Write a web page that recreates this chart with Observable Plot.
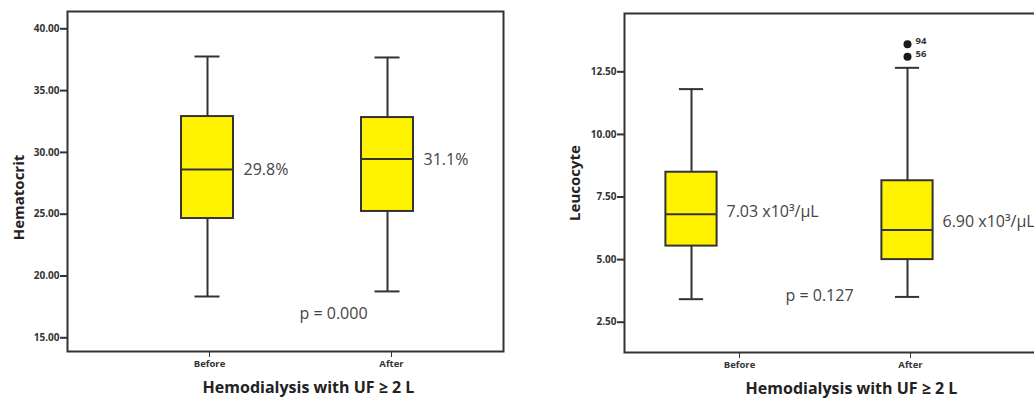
<!DOCTYPE html>
<html>
<head>
<meta charset="utf-8">
<script src="https://cdn.jsdelivr.net/npm/d3@7"></script>
<script src="https://cdn.jsdelivr.net/npm/@observablehq/plot@0.6"></script>
<style>
  body { margin: 0; background: #fff; }
  #wrap { position: relative; width: 1034px; height: 398px; overflow: hidden; background: #fff; }
  #left, #right { position: absolute; top: 0; width: 520px; height: 398px; }
  #left { left: 0; }
  #right { left: 560px; }
  #wrap svg { max-width: none !important; }
</style>
</head>
<body>
<div id="wrap"><div id="left"></div><div id="right"></div></div>
<script>
// ---- data ----
const categories = ["Before", "After"];

const hctMin = [18.34, 18.75];
const hctQ1  = [24.65, 25.22];
const hctMed = [28.62, 29.47];
const hctQ3  = [32.90, 32.82];
const hctMax = [37.76, 37.68];
const hctTicks = [15, 20, 25, 30, 35, 40];
const hctLabels = ["29.8%", "31.1%"];
const hctLabelY = [28.55, 29.40];
const hctP = "p = 0.000";
const hctPY = 16.97;

const leuMin = [3.42, 3.51];
const leuQ1  = [5.54, 5.00];
const leuMed = [6.81, 6.18];
const leuQ3  = [8.49, 8.15];
const leuMax = [11.81, 12.66];
const leuTicks = [2.5, 5, 7.5, 10, 12.5];
const leuLabels = ["7.03 x10³/µL", "6.90 x10³/µL"];
const leuLabelY = [6.91, 6.51];
const leuOutlierValues = [13.6, 13.1];
const leuOutlierIds = ["94", "56"];
const leuP = "p = 0.127";
const leuPY = 3.54;

const xTitle = "Hemodialysis with UF ≥ 2 L";

// ---- build ----
const YELLOW = "#fff200";
const INK = "#333";

function boxTable(mins, q1s, meds, q3s, maxs) {
  return categories.map((c, i) => ({cat: c, min: mins[i], q1: q1s[i], med: meds[i], q3: q3s[i], max: maxs[i]}));
}

function panel(o) {
  const data = boxTable(o.min, o.q1, o.med, o.q3, o.max);
  const labels = categories.map((c, i) => ({cat: c, y: o.labelY[i], text: o.labels[i]}));
  const marks = [
    Plot.frame({stroke: INK, strokeWidth: 2}),
    Plot.axisY(o.ticks, {tickFormat: d => d.toFixed(2), tickSize: 7, tickPadding: 1, fontSize: 10, fontWeight: "bold", color: INK, strokeWidth: 2, label: null}),
    Plot.axisX(["Before"], {tickSize: 6, tickPadding: 3, fontSize: 9.5, fontWeight: "bold", color: INK, label: null, dx: o.beforeTickDx}),
    Plot.axisX(["After"], {tickSize: 6, tickPadding: 3, fontSize: 9.5, fontWeight: "bold", color: INK, label: null, dx: o.afterTickDx}),
    Plot.ruleX(data, {x: "cat", y1: "min", y2: "q1", stroke: INK, strokeWidth: 2}),
    Plot.ruleX(data, {x: "cat", y1: "q3", y2: "max", stroke: INK, strokeWidth: 2}),
    Plot.tickY(data, {x: "cat", y: "min", stroke: INK, strokeWidth: 2, insetLeft: o.capInset, insetRight: o.capInset}),
    Plot.tickY(data, {x: "cat", y: "max", stroke: INK, strokeWidth: 2, insetLeft: o.capInset, insetRight: o.capInset}),
    Plot.barY(data, {x: "cat", y1: "q1", y2: "q3", fill: YELLOW, stroke: INK, strokeWidth: 2, insetLeft: o.boxInset, insetRight: o.boxInset}),
    Plot.tickY(data, {x: "cat", y: "med", stroke: INK, strokeWidth: 2, insetLeft: o.boxInset, insetRight: o.boxInset}),
    Plot.text(labels, {x: "cat", y: "y", text: "text", textAnchor: "start", dx: o.labelDx, fontSize: 16, fill: "#444"}),
    Plot.text([o.p], {x: () => o.pCat, y: () => o.pY, text: d => d, dx: o.pDx, fontSize: 16, fill: "#444"}),
    Plot.text([o.yLabel], {frameAnchor: "left", text: d => d, textAnchor: "middle", lineAnchor: "middle", rotate: -90, dx: o.yLabelDx, dy: o.yLabelDy, fontSize: 15, fontWeight: "bold", fill: "#222"}),
    Plot.text([xTitle], {frameAnchor: "bottom", text: d => d, textAnchor: "middle", lineAnchor: "middle", dx: o.xTitleDx, dy: 36, fontSize: 16, fontWeight: "bold", fill: "#222"})
  ];
  if (o.outliers) {
    const outs = o.outliers.map((v, i) => ({cat: "After", y: v, id: o.outlierIds[i]}));
    marks.push(Plot.dot(outs, {x: "cat", y: "y", r: 4, fill: "#1a1a1a"}));
    marks.push(Plot.text(outs, {x: "cat", y: "y", text: "id", textAnchor: "start", dx: 8, dy: -3, fontSize: 9.5, fontWeight: "bold", fill: "#333"}));
  }
  return Plot.plot({
    width: o.width, height: 398,
    marginLeft: o.ml, marginRight: o.mr, marginTop: o.mt, marginBottom: o.mb,
    style: {fontFamily: "'Open Sans', 'Noto Sans', sans-serif", background: "transparent", overflow: "visible", maxWidth: "none"},
    x: {type: "band", domain: categories, paddingInner: 0.6, paddingOuter: 0, insetLeft: o.insetL, insetRight: o.insetR, axis: null},
    y: {domain: o.domain, axis: null},
    marks
  });
}

document.getElementById("left").appendChild(panel({
  width: 520, ml: 67, mr: 17, mt: 11, mb: 47, insetL: 104, insetR: 80,
  domain: [13.89, 41.4], ticks: hctTicks,
  min: hctMin, q1: hctQ1, med: hctMed, q3: hctQ3, max: hctMax,
  labels: hctLabels, labelY: hctLabelY, labelDx: 36,
  p: hctP, pY: hctPY, pCat: "After", pDx: -54,
  boxInset: 10, capInset: 23.5, beforeTickDx: 2, afterTickDx: 4,
  yLabel: "Hematocrit", yLabelDx: -48, yLabelDy: 16, xTitleDx: 23
}));

document.getElementById("right").appendChild(panel({
  width: 520, ml: 64, mr: 10, mt: 13, mb: 46, insetL: 23.6, insetR: 118.6,
  domain: [1.29, 14.83], ticks: leuTicks,
  min: leuMin, q1: leuQ1, med: leuMed, q3: leuQ3, max: leuMax,
  labels: leuLabels, labelY: leuLabelY, labelDx: 35,
  p: leuP, pY: leuPY, pCat: "After", pDx: -88,
  boxInset: 17.4, capInset: 30.9, beforeTickDx: 48, afterTickDx: 3,
  outliers: leuOutlierValues, outlierIds: leuOutlierIds,
  yLabel: "Leucocyte", yLabelDx: -49, yLabelDy: 0, xTitleDx: 4
}));
</script>
</body>
</html>
